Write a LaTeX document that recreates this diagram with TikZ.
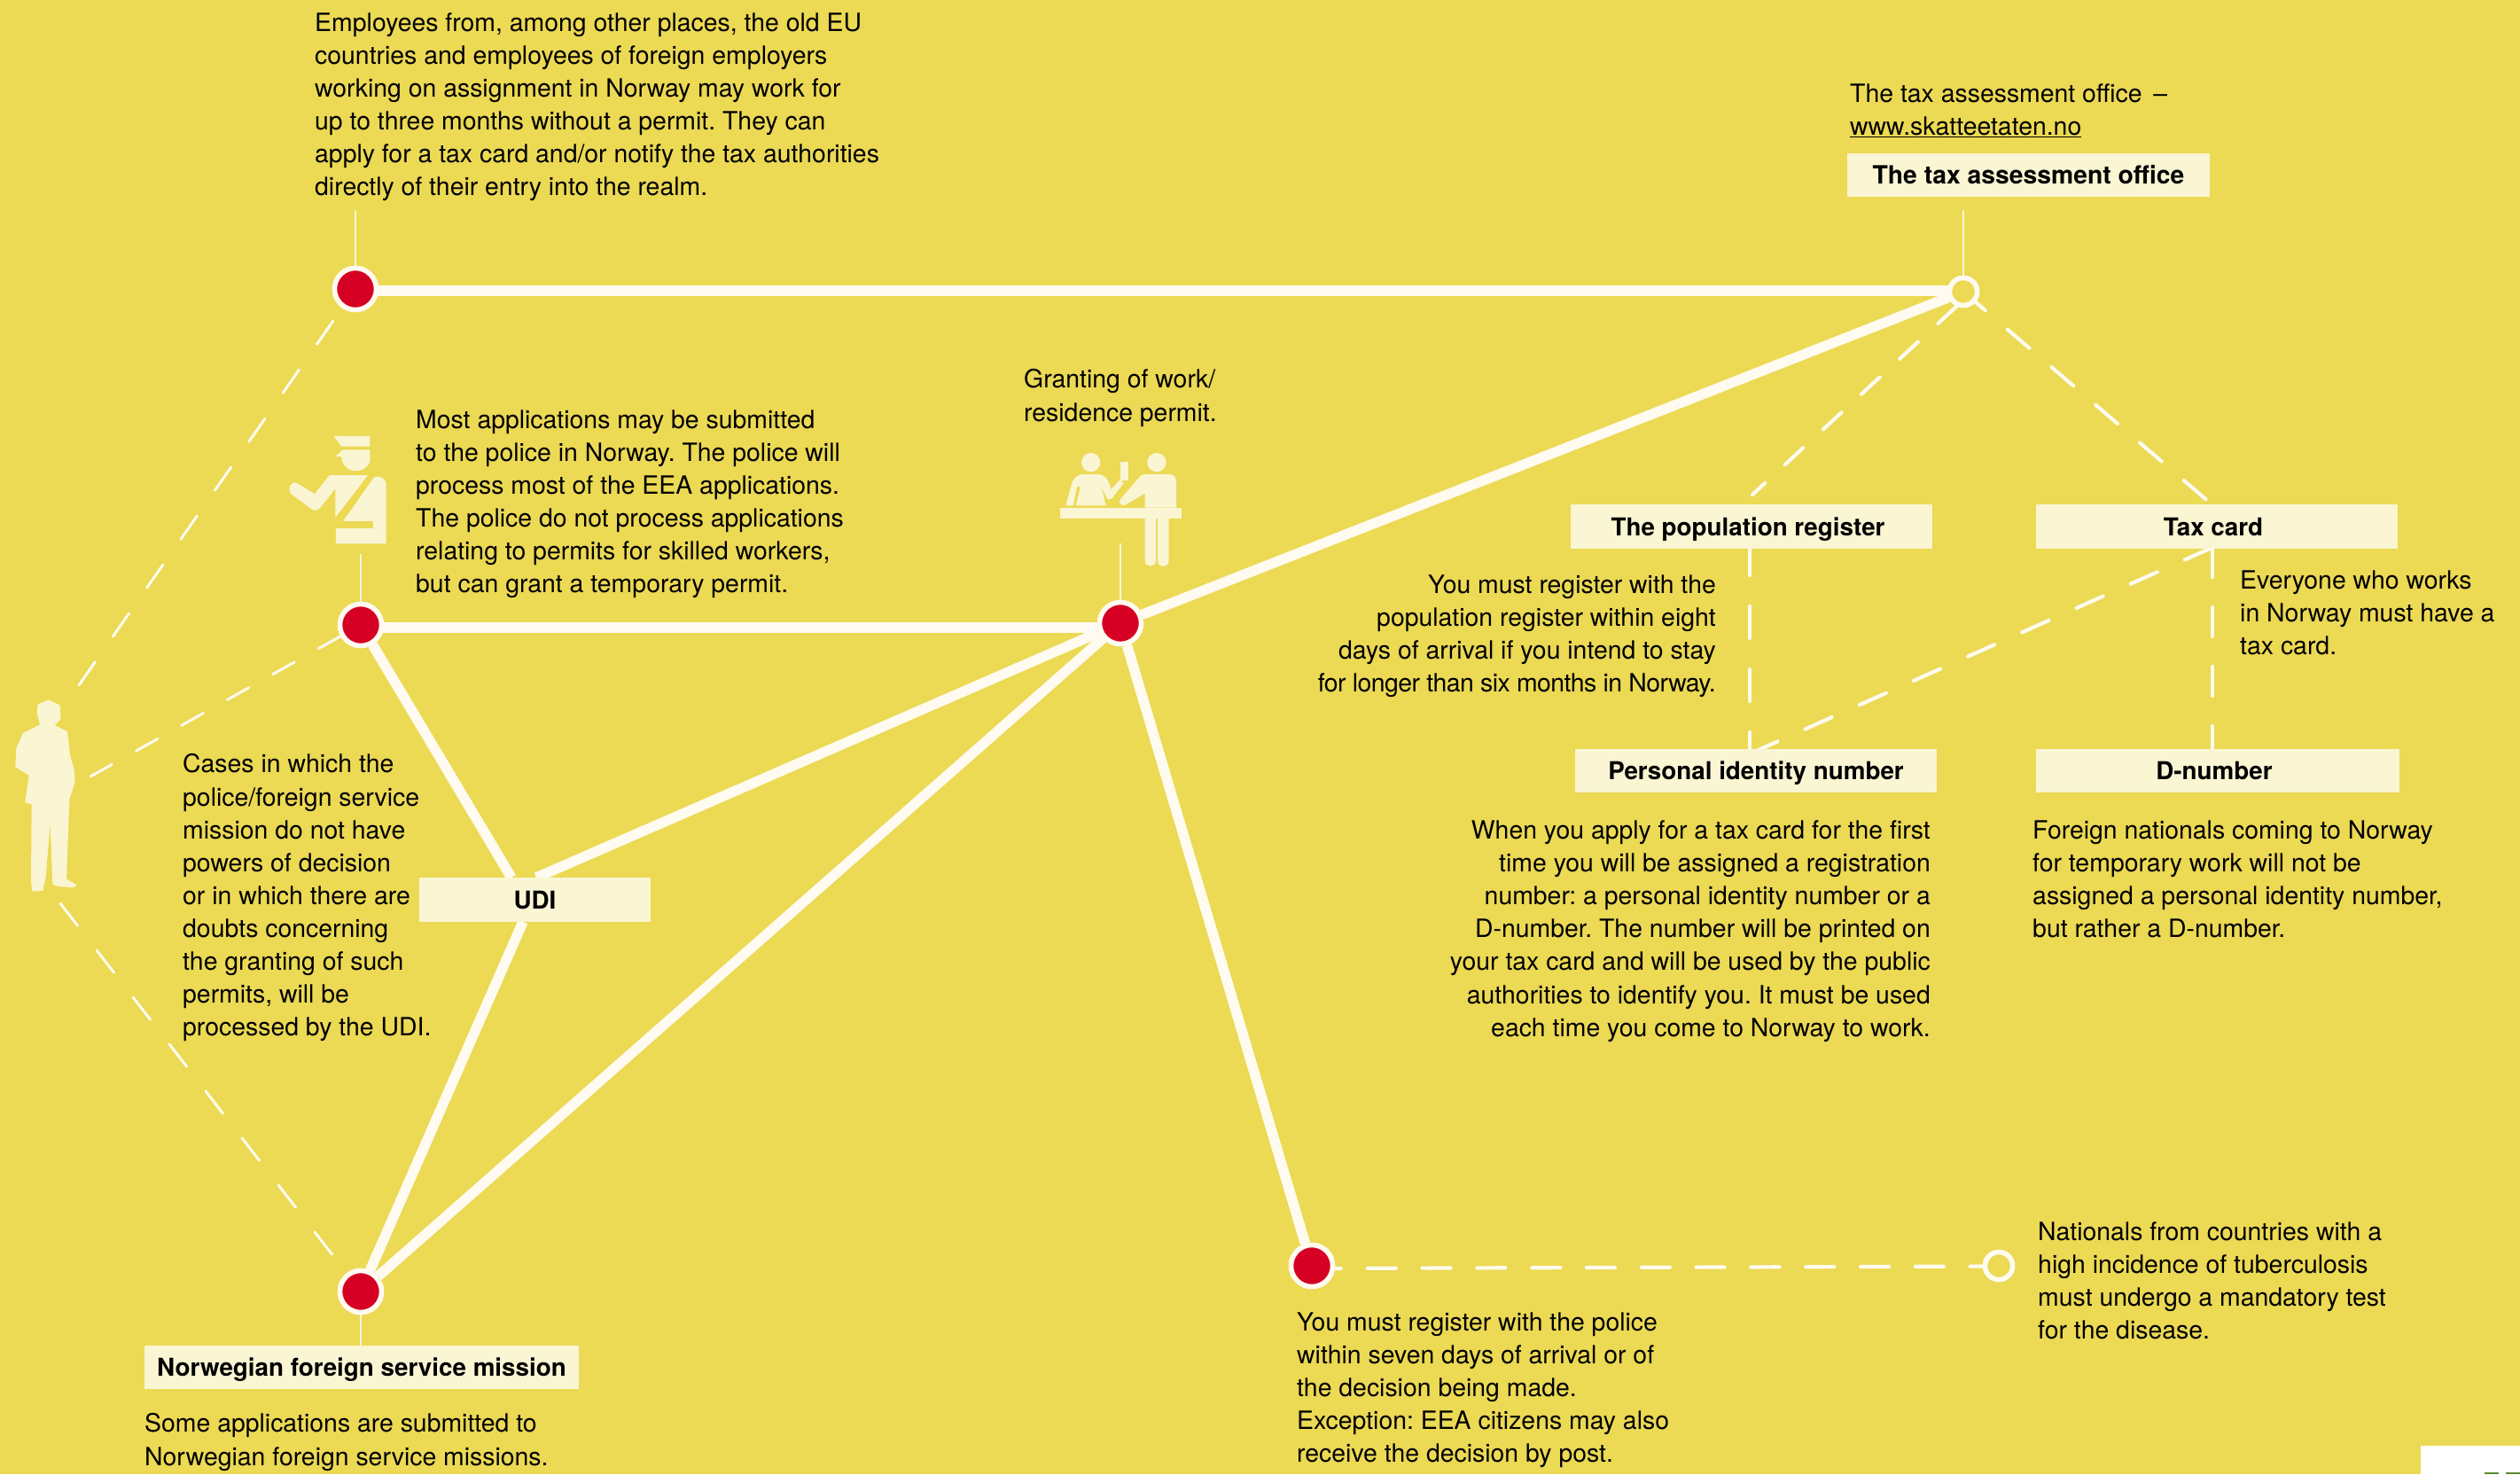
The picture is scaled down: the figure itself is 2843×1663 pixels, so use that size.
\documentclass[tikz,border=0pt]{standalone}
\usepackage{fontspec}
\setmainfont{TeX Gyre Heros}
\frenchspacing
\definecolor{bg}{HTML}{ECD954}
\definecolor{cream}{HTML}{FAF5D3}
\definecolor{wline}{HTML}{FFFBF0}
\definecolor{redn}{HTML}{D50023}
\definecolor{greenm}{HTML}{5C8A2E}
\newcommand{\lifted}[2][0pt]{\hspace*{#1}\raisebox{0pt}[20.5pt][0pt]{#2}}
\tikzset{
 x=1pt,y=-1pt,
 body/.style={anchor=north west,align=left,inner sep=0pt,text=black,font=\fontsize{28.4}{37.1}\selectfont},
 bodyr/.style={anchor=north east,align=right,inner sep=0pt,text=black,font=\fontsize{28.4}{37.1}\selectfont},
 lab/.style={fill=cream,inner sep=0pt,text=black,font=\fontsize{27.8}{35}\selectfont\bfseries},
 rednode/.style={circle,fill=redn,draw=wline,line width=5.5pt,inner sep=0pt,minimum size=47pt},
 holenode/.style={circle,fill=bg,draw=wline,line width=5.5pt,inner sep=0pt,minimum size=31pt},
 heavy line/.style={draw=wline,line width=11.5pt},
 dash line/.style={draw=wline,line width=4.2pt,line cap=round},
 thin dash/.style={draw=wline,line width=3pt,line cap=round},
 thin line/.style={draw=cream,line width=2.5pt},
 icon/.style={fill=cream,draw=none},
}
\begin{document}
\begin{tikzpicture}
\useasboundingbox (0,0) rectangle (2843,1663);
\fill[bg] (0,0) rectangle (2843,1663);
\fill[white] (2731,1631) rectangle (2843,1663);
\fill[greenm] (2803,1661) rectangle (2819,1663);
\fill[greenm] (2827,1661) rectangle (2843,1663);

% nodes
\node[rednode] (n1) at (401,326) {};
\node[rednode] (n2) at (407,705) {};
\node[rednode] (n3) at (1264,703) {};
\node[rednode] (n4) at (407,1457) {};
\node[rednode] (n5) at (1480,1428) {};
\node[holenode] (n6) at (2215,329) {};
\node[holenode] (n7) at (2255,1428) {};

% helper coordinates
\coordinate (pA) at (89,773);
\coordinate (pB) at (102,876);
\coordinate (pC) at (68,1019);
\coordinate (h1) at (401,328);
\coordinate (h6) at (2215,328);
\coordinate (h2) at (407,708);
\coordinate (h3) at (1264,708);
\coordinate (u1) at (577,990);
\coordinate (u2) at (590,1040);
\coordinate (u3) at (605,990);
\coordinate (t1) at (401,237);
\coordinate (t2) at (407,625);
\coordinate (t3) at (1264,613);
\coordinate (t6) at (2215,237);
\coordinate (s6a) at (2207,346);
\coordinate (popT) at (1977,558);
\coordinate (cardT) at (2493,567);
\coordinate (popB) at (1974,613);
\coordinate (pinT) at (1974,846);
\coordinate (cardB) at (2496,618);
\coordinate (dnT) at (2496,846);
\coordinate (cardL) at (2495,618);
\coordinate (pinR) at (1984,846);
\coordinate (d5) at (1481,1431);
\coordinate (d7) at (2255,1428.5);

% heavy connectors
\draw[heavy line] (h1) -- (h6);
\draw[heavy line] (n3) -- (n6);
\draw[heavy line] (h2) -- (h3);
\draw[heavy line] (n2) -- (u1);
\draw[heavy line] (u2) -- (n4);
\draw[heavy line] (u3) -- (n3);
\draw[heavy line] (n4) -- (n3);
\draw[heavy line] (n3) -- (n5);

% dashed connectors
\draw[thin dash,dash pattern=on 32pt off 35pt] (pA) -- (n1.center);
\draw[thin dash,dash pattern=on 28pt off 31pt] (pB) -- (n2.center);
\draw[thin dash,dash pattern=on 32pt off 35pt] (pC) -- (n4.center);
\draw[dash line,dash pattern=on 28pt off 30.7pt] (s6a) -- (popT);
\draw[dash line,dash pattern=on 32.5pt off 33pt] (n6.center) -- (cardT);
\draw[dash line,dash pattern=on 36pt off 35pt] (popB) -- (pinT);
\draw[dash line,dash pattern=on 33pt off 34pt] (cardB) -- (dnT);
\draw[dash line,dash pattern=on 33pt off 34pt] (cardL) -- (pinR);
\draw[dash line,dash pattern=on 32pt off 29.8pt] (d5) -- (d7);

% labels
\node[lab,font=\fontsize{28.3}{35}\selectfont\bfseries,minimum width=409pt,minimum height=49pt] (ltax) at (2288.5,197.5) {\lifted{The tax assessment office}};
\node[lab,minimum width=408pt,minimum height=50pt] (lpop) at (1976,594) {\lifted[-8pt]{The population register}};
\node[lab,minimum width=408pt,minimum height=50pt] (lcard) at (2501,594) {\lifted[-8pt]{Tax card}};
\node[lab,minimum width=408pt,minimum height=49pt] (lpin) at (1981,869.5) {\lifted{Personal identity number}};
\node[lab,minimum width=410pt,minimum height=49pt] (ldn) at (2502,869.5) {\lifted[-8pt]{D-number}};
\node[lab,minimum width=261pt,minimum height=50pt] (ludi) at (603.5,1015) {\lifted{UDI}};
\node[lab,minimum width=490pt,minimum height=49pt] (lmis) at (408,1542.5) {\lifted{Norwegian foreign service mission}};

% thin leaders
\draw[thin line] (t1) -- (n1);
\draw[thin line] (t2) -- (n2);
\draw[thin line] (t3) -- (n3);
\draw[thin line] (t6) -- (n6);
\draw[thin line] (n4) -- (n4 |- lmis.north);

% redraw nodes on top of connectors
\node[rednode] at (n1) {};
\node[rednode] at (n2) {};
\node[rednode] at (n3) {};
\node[rednode] at (n4) {};
\node[rednode] at (n5) {};
\node[holenode] at (n6) {};
\node[holenode] at (n7) {};

% person and police officer (traced on a squeezed grid)
\begin{scope}[shift={(0,450)},x=0.33333pt,y=-0.3827pt]
\fill[icon] (128,900) -- (165,887) -- (203,903) -- (205,945) -- (185,962) -- (228,980) -- (237,1050) -- (250,1090) -- (254,1130) -- (235,1180) -- (225,1415) -- (260,1433) -- (250,1440) -- (205,1438) -- (178,1432) -- (170,1250) -- (155,1410) -- (145,1450) -- (110,1452) -- (105,1425) -- (107,1195) -- (85,1190) -- (98,1110) -- (52,1085) -- (55,1030) -- (78,985) -- (135,960) -- (125,925) -- cycle;
\fill[icon] (1130,110) -- (1252,110) -- (1252,140) -- (1155,140) -- cycle;
\fill[icon] (1135,170) -- (1160,150) -- (1252,150) -- (1252,180) .. controls (1250,200) and (1230,212) .. (1205,212) .. controls (1180,212) and (1160,200) .. (1155,170) -- cycle;
\fill[icon] (1115,225) -- (1245,225) -- (1135,350) -- (1135,265) -- (1085,320) .. controls (1075,332) and (1060,330) .. (1050,322) -- (985,280) .. controls (970,265) and (985,240) .. (1005,248) -- (1065,280) -- cycle;
\fill[icon] (1265,232) .. controls (1285,222) and (1307,235) .. (1307,255) -- (1307,427) -- (1137,427) -- (1137,382) -- (1263,382) -- (1263,360) -- (1162,360) -- cycle;
\end{scope}

% counter icon
\begin{scope}[shift={(1100,380)},x=0.33333pt,y=-0.33333pt]
\fill[icon] (392,425) circle[radius=10.7pt];
\fill[icon] (615,425) circle[radius=10.7pt];
\fill[icon] (289,578) rectangle (698,614);
\fill[icon] (491,424) rectangle (519,485);
\fill[icon] (307,571) -- (328,495) .. controls (335,475) and (350,465) .. (365,465) -- (415,465) .. controls (435,465) and (450,478) .. (457,505) -- (460,516) -- (492,482) -- (503,495) -- (465,545) .. controls (455,555) and (445,550) .. (443,540) -- (428,507) -- (443,571) -- (341,571) -- (357,507) -- (345,507) -- (332,571) -- cycle;
\fill[icon] (575,465) -- (660,465) .. controls (675,465) and (681,478) .. (681,490) -- (681,578) -- (575,578) -- (575,530) -- (512,567) .. controls (500,578) and (480,562) .. (492,550) -- (550,482) .. controls (557,472) and (565,465) .. (575,465) -- cycle;
\fill[icon] (575,614) -- (612,614) -- (612,758) .. controls (612,782) and (575,782) .. (575,758) -- cycle;
\fill[icon] (618,614) -- (656,614) -- (656,758) .. controls (656,782) and (618,782) .. (618,758) -- cycle;
\end{scope}

% texts
\node[body] (tA) at (355,14.5) {Employees from, among other places, the old EU\\countries and employees of foreign employers\\working on assignment in Norway may work for\\up to three months without a permit. They can\\apply for a tax card and/or notify the tax authorities\\directly of their entry into the realm.};
\node[body] (tTax) at (2087,94.5) {The tax assessment office\ \kern-3pt\ –\\\underline{www.skatteetaten.no}};
\node[body] (tPol) at (469,462.5) {Most applications may be submitted\\to the police in Norway. The police will\\process most of the EEA applications.\\The police do not process applications\\relating to permits for skilled workers,\\but can grant a temporary permit.};
\node[body] (tGr) at (1155,416.5) {Granting of work/\\residence permit.};
\node[body] (tUdi) at (206,850.5) {Cases in which the\\police/foreign service\\mission do not have\\powers of decision\\or in which there are\\doubts concerning\\the granting of such\\permits, will be\\processed by the UDI.};
\node[bodyr] (tPop) at (1936,648.5) {You must register with the\\population register within eight\\days of arrival if you intend to stay\\{\addfontfeature{LetterSpace=-2}for longer than six months in Norway.}};
\node[body] (tEv) at (2527,643.5) {Everyone who works\\in Norway must have a\\tax card.};
\node[bodyr] (tPin) at (2178,925.5) {When you apply for a tax card for the first\\time you will be assigned a registration\\number: a personal identity number or a\\D-number. The number will be printed on\\your tax card and will be used by the public\\authorities to identify you. It must be used\\each time you come to Norway to work.};
\node[body] (tDn) at (2293,925.5) {Foreign nationals coming to Norway\\for temporary work will not be\\assigned a personal identity number,\\but rather a D-number.};
\node[body] (tNat) at (2299,1378.5) {Nationals from countries with a\\high incidence of tuberculosis\\must undergo a mandatory test\\for the disease.};
\node[body] (tReg) at (1463,1480.5) {You must register with the police\\within seven days of arrival or of\\the decision being made.\\Exception: EEA citizens may also\\receive the decision by post.};
\node[body] (tSome) at (163,1594.5) {Some applications are submitted to\\Norwegian foreign service missions.};
\end{tikzpicture}
\end{document}
